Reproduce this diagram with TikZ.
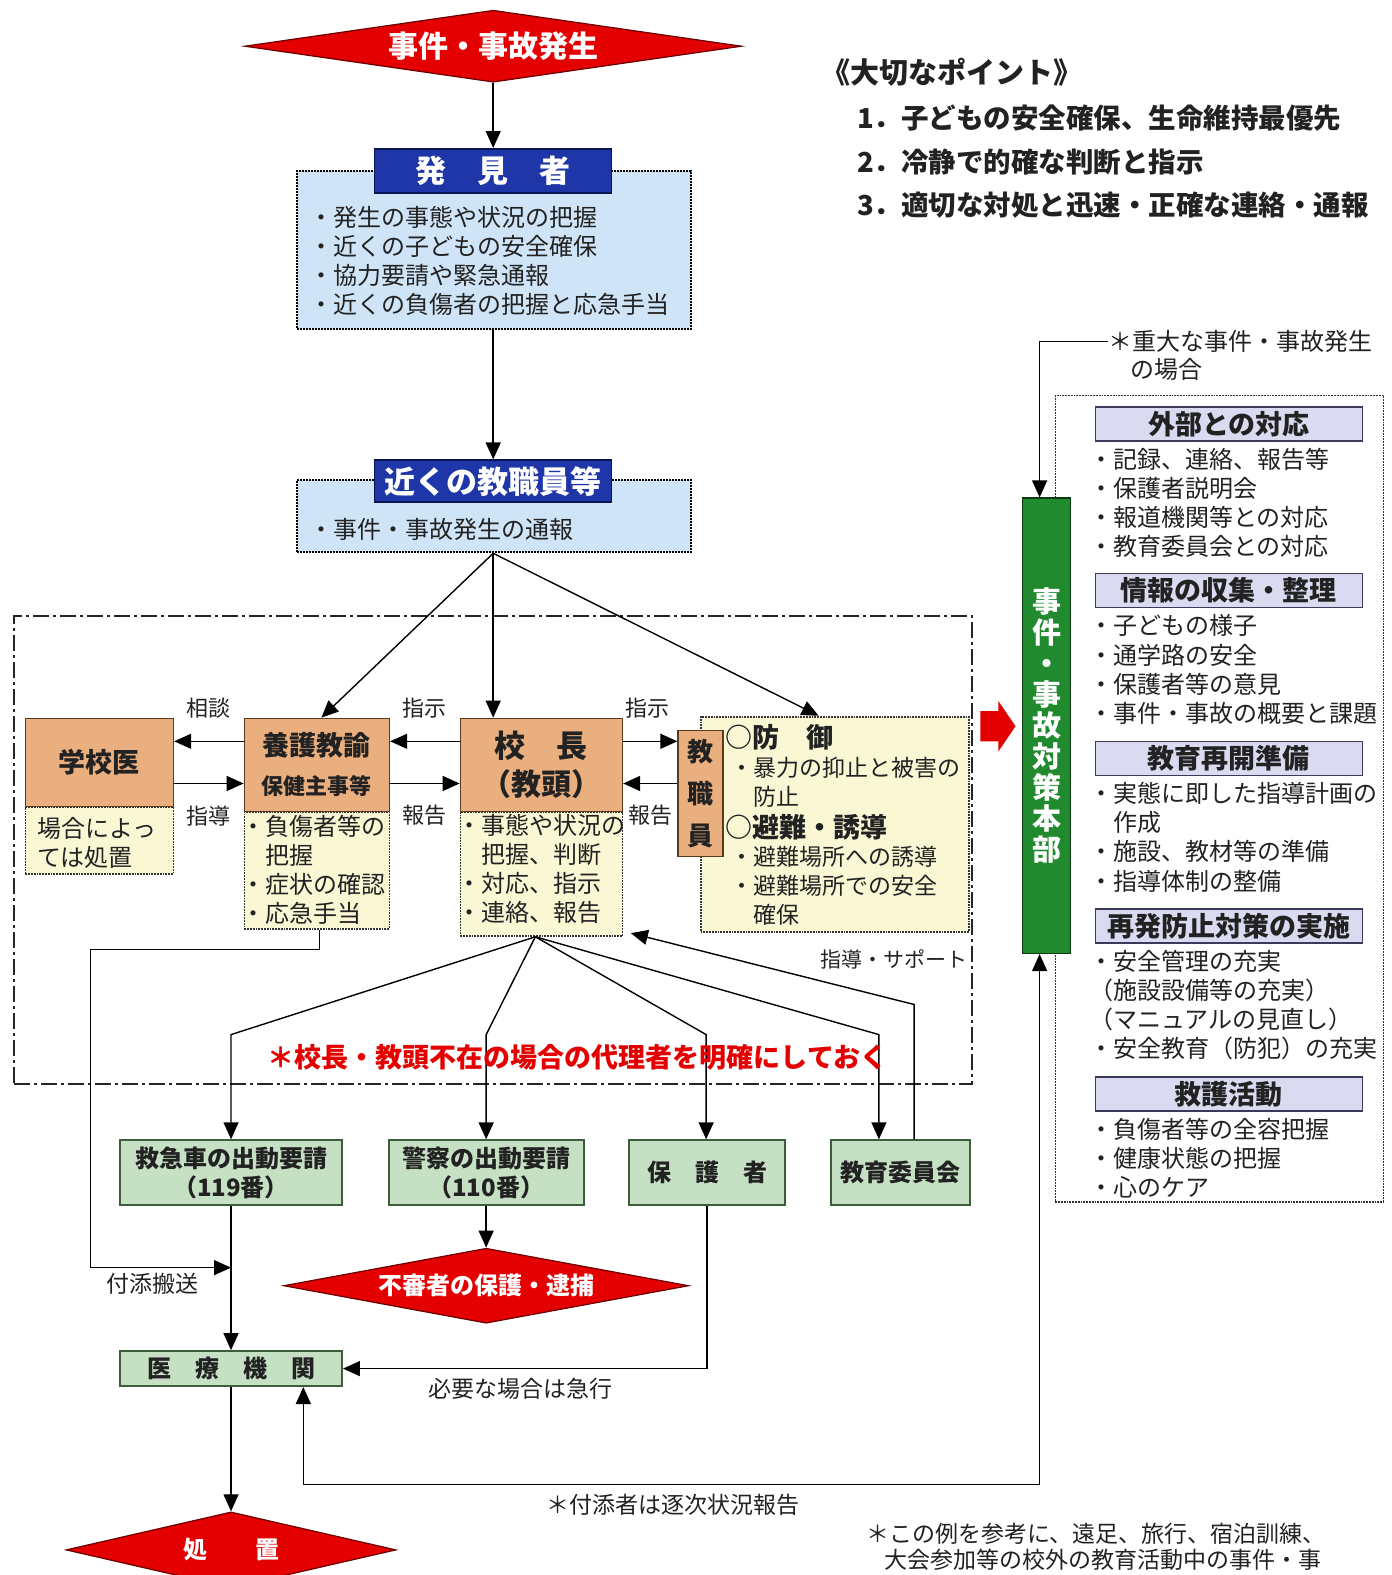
\documentclass[tikz,border=0pt]{standalone}
\usepackage{fontspec}
\setmainfont{Noto Sans CJK JP}
\usetikzlibrary{shapes.geometric,arrows.meta}
\definecolor{cRed}{HTML}{E40000}
\definecolor{cRedB}{HTML}{6A0000}
\definecolor{cBlue}{HTML}{1E36A8}
\definecolor{cBlueB}{HTML}{0A1450}
\definecolor{cLBlue}{HTML}{CFE5F7}
\definecolor{cOrange}{HTML}{EAAF7E}
\definecolor{cOrangeB}{HTML}{5A3A1A}
\definecolor{cYellow}{HTML}{FAF7D5}
\definecolor{cGreen}{HTML}{218A2E}
\definecolor{cGreenB}{HTML}{0C3A10}
\definecolor{cLav}{HTML}{DADBF1}
\definecolor{cLavB}{HTML}{3A3A5A}
\definecolor{cLGreen}{HTML}{C6E0C4}
\definecolor{cLGreenB}{HTML}{3D5E3D}
\definecolor{cText}{HTML}{222222}
\begin{document}
\begin{tikzpicture}[x=1.0043pt,y=-1.0043pt,
  arr/.style={-{Triangle[length=17pt,width=15pt]}, line width=1.4pt, draw=black},
  dbl/.style={{Triangle[length=17pt,width=15pt]}-{Triangle[length=17pt,width=15pt]}, line width=1.4pt, draw=black},
  dia/.style={diamond, fill=cRed, draw=cRedB, line width=1.2pt, inner sep=0pt},
  hdr/.style={rectangle, fill=cBlue, draw=cBlueB, line width=1.5pt, inner sep=0pt},
  lbox/.style={rectangle, fill=cLBlue, draw=black, densely dotted, line width=2pt, inner sep=0pt},
  obox/.style={rectangle, fill=cOrange, draw=cOrangeB, line width=1.5pt, inner sep=0pt},
  ybox/.style={rectangle, fill=cYellow, draw=black!80, densely dotted, line width=1.8pt, inner sep=0pt},
  gbox/.style={rectangle, fill=cLGreen, draw=cLGreenB, line width=1.8pt, inner sep=0pt},
  vbox/.style={rectangle, fill=cLav, draw=cLavB, line width=1.5pt, inner sep=0pt, minimum width=267pt, minimum height=34pt},
  rbox/.style={rectangle, draw=black!80, densely dotted, line width=1.8pt, inner sep=0pt},
  txt/.style={inner sep=0pt, text=cText, font=\fontsize{24}{29}\selectfont, align=left},
  wtxt/.style={inner sep=0pt, text=white, align=center},
  btxt/.style={inner sep=0pt, text=cText, align=center},
  lbl/.style={inner sep=0pt, text=cText, font=\fontsize{22}{22}\selectfont},
  vhead/.style={inner sep=0pt, text=cText, font=\bfseries\fontsize{27}{27}\selectfont},
  item/.style={inner sep=0pt, text=cText, font=\fontsize{24}{24}\selectfont, anchor=west}
]
\useasboundingbox (0,0) rectangle (1385,1568);
\clip (0,0) rectangle (1385,1568);
\fill[white] (0,0) rectangle (1385,1568);

% top diamond
\node[dia, minimum width=497pt, minimum height=72pt] (dtop) at (491,46) {};
\node[wtxt, font=\bfseries\fontsize{30}{30}\selectfont] (dtopT) at (dtop.center) {事件・事故発生};

% discoverer
\node[lbox, minimum width=394pt, minimum height=158pt] (hkbox) at (492,249) {};
\node[hdr, minimum width=237pt, minimum height=44pt] (hk) at (491,170) {};
\node[wtxt, font=\bfseries\fontsize{31}{31}\selectfont] (hkT) at (hk) {発　見　者};
\node[txt, anchor=west] (hkL) at (308,259.5) {・発生の事態や状況の把握\\・近くの子どもの安全確保\\・協力要請や緊急通報\\・近くの負傷者の把握と応急手当};

% nearby staff
\node[lbox, minimum width=394pt, minimum height=72pt] (knbox) at (492,514) {};
\node[hdr, minimum width=237pt, minimum height=42pt] (kn) at (491,479) {};
\node[wtxt, font=\bfseries\fontsize{31}{31}\selectfont] (knT) at (kn) {近くの教職員等};
\node[txt, anchor=west] (knL) at (308,527) {・事件・事故発生の通報};

\draw[arr] (dtop.south) -- (hk.north);
\draw[arr] (hk.north |- hkbox.south) -- (kn.north);

% zone
\node[draw=black!85, line width=2.2pt, dash pattern=on 16pt off 4pt on 3pt off 4pt, minimum width=958pt, minimum height=468pt, inner sep=0pt] (zone) at (491,846) {};

% school doctor
\node[ybox, minimum width=148pt, minimum height=67pt] (gibox) at (99,836.5) {};
\node[obox, minimum width=148pt, minimum height=88pt] (gi) at (99,759) {};
\node[btxt, font=\bfseries\fontsize{27}{27}\selectfont] (giT) at (gi) {学校医};
\node[txt, anchor=west] (giL) at (37,839) {場合によっ\\ては処置};

% nurse teacher
\node[ybox, minimum width=145pt, minimum height=117pt] (ygbox) at (315.5,866.5) {};
\node[obox, minimum width=145pt, minimum height=93pt] (yg) at (315.5,761.5) {};
\node[btxt, font=\bfseries\fontsize{27}{27}\selectfont] (ygT1) at (315.5,742) {養護教諭};
\node[btxt, font=\bfseries\fontsize{22}{22}\selectfont] (ygT2) at (315.5,783) {保健主事等};
\node[txt, anchor=west] (ygL) at (240,865.5) {・負傷者等の\\　把握\\・症状の確認\\・応急手当};

% principal
\node[ybox, minimum width=162pt, minimum height=124pt] (kcbox) at (539,870) {};
\node[obox, minimum width=162pt, minimum height=93pt] (kc) at (539,761.5) {};
\node[btxt, font=\bfseries\fontsize{31}{31}\selectfont] (kcT1) at (539,742) {校　長};
\node[btxt, font=\bfseries\fontsize{30}{30}\selectfont] (kcT2) at (539,781) {（教頭）};
\node[txt, anchor=west] (kcL) at (455,865.5) {・事態や状況の\\　把握、判断\\・対応、指示\\・連絡、報告};

% defence box
\node[ybox, minimum width=268pt, minimum height=215pt] (bgbox) at (831,820.5) {};
\node[obox, minimum width=45pt, minimum height=126pt] (ks) at (697.5,790) {};
\node[btxt, font=\bfseries\fontsize{26}{42}\selectfont] (ksT) at (ks) {教\\職\\員};
\node[inner sep=0pt, text=cText, font=\bfseries\fontsize{27}{27}\selectfont, anchor=west] (bg1) at (722,734) {○防　御};
\node[inner sep=0pt, text=cText, font=\fontsize{23}{23}\selectfont, anchor=west] (bg2) at (727,764) {・暴力の抑止と被害の};
\node[inner sep=0pt, text=cText, font=\fontsize{23}{23}\selectfont, anchor=west] (bg3) at (750,793) {防止};
\node[inner sep=0pt, text=cText, font=\bfseries\fontsize{27}{27}\selectfont, anchor=west] (bg4) at (722,824) {○避難・誘導};
\node[inner sep=0pt, text=cText, font=\fontsize{23}{23}\selectfont, anchor=west] (bg5) at (727,853) {・避難場所への誘導};
\node[inner sep=0pt, text=cText, font=\fontsize{23}{23}\selectfont, anchor=west] (bg6) at (727,882) {・避難場所での安全};
\node[inner sep=0pt, text=cText, font=\fontsize{23}{23}\selectfont, anchor=west] (bg7) at (750,911) {確保};

% horizontal arrows
\draw[arr] (yg.west |- 0,738) -- (gi.east |- 0,738);
\draw[arr] (gi.east |- 0,780) -- (yg.west |- 0,780);
\draw[arr] (kc.west |- 0,738) -- (yg.east |- 0,738);
\draw[arr] (yg.east |- 0,780) -- (kc.west |- 0,780);
\draw[arr] (kc.east |- 0,738) -- (ks.west |- 0,738);
\draw[arr] (ks.west |- 0,780) -- (kc.east |- 0,780);
\node[lbl] (l1) at (208,705) {相談};
\node[lbl] (l2) at (208,812) {指導};
\node[lbl] (l3) at (423,705) {指示};
\node[lbl] (l4) at (423,812) {報告};
\node[lbl] (l5) at (645,705) {指示};
\node[lbl] (l6) at (648,812) {報告};

% arrows from nearby staff
\coordinate (kns) at (kn.north |- knbox.south);
\draw[arr] (kns) -- (yg.north -| 320,0);
\draw[arr] (kns) -- (kc.north -| 491,0);
\draw[arr] (kns) -- (bgbox.north -| 815,0);

% red arrow
\fill[cRed] (976,708) -- (994,708) -- (994,698) -- (1011,723) -- (994,748) -- (994,738) -- (976,738) -- cycle;

% right dotted box
\node[rbox, minimum width=328pt, minimum height=806pt] (rb) at (1214,795) {};

% HQ bar
\node[rectangle, fill=cGreen, draw=cGreenB, line width=1.5pt, minimum width=48pt, minimum height=455pt, inner sep=0pt] (hq) at (1042,722.5) {};
\node[wtxt, font=\bfseries\fontsize{29}{31}\selectfont] (hqT) at (hq) {事\\件\\・\\事\\故\\対\\策\\本\\部};

\node[inner sep=0pt, text=cText, font=\fontsize{24}{24}\selectfont, anchor=west] (sj1) at (1103,340) {＊重大な事件・事故発生};
\node[inner sep=0pt, text=cText, font=\fontsize{24}{24}\selectfont, anchor=west] (sj2) at (1125,368) {の場合};
\coordinate (hqin) at (hq.north -| 1035,0);
\draw[arr] (sj1.west) -| (hqin);

% right contents
\node[vbox] (v1) at (1223.5,422) {}; \node[vhead] (v1T) at (v1) {外部との対応};
\node[item] (i11) at (1084,457) {・記録、連絡、報告等};
\node[item] (i12) at (1084,486) {・保護者説明会};
\node[item] (i13) at (1084,515) {・報道機関等との対応};
\node[item] (i14) at (1084,544) {・教育委員会との対応};
\node[vbox] (v2) at (1223.5,588) {}; \node[vhead] (v2T) at (v2) {情報の収集・整理};
\node[item] (i21) at (1084,623) {・子どもの様子};
\node[item] (i22) at (1084,652) {・通学路の安全};
\node[item] (i23) at (1084,681) {・保護者等の意見};
\node[item] (i24) at (1084,710) {・事件・事故の概要と課題};
\node[vbox] (v3) at (1223.5,755) {}; \node[vhead] (v3T) at (v3) {教育再開準備};
\node[item] (i31) at (1084,790) {・実態に即した指導計画の};
\node[item] (i32) at (1108,819) {作成};
\node[item] (i33) at (1084,848) {・施設、教材等の準備};
\node[item] (i34) at (1084,877) {・指導体制の整備};
\node[vbox] (v4) at (1223.5,922) {}; \node[vhead] (v4T) at (v4) {再発防止対策の実施};
\node[item] (i41) at (1084,957) {・安全管理の充実};
\node[item] (i42) at (1084,986) {（施設設備等の充実）};
\node[item] (i43) at (1084,1015) {（マニュアルの見直し）};
\node[item] (i44) at (1084,1044) {・安全教育（防犯）の充実};
\node[vbox] (v5) at (1223.5,1089) {}; \node[vhead] (v5T) at (v5) {救護活動};
\node[item] (i51) at (1084,1124) {・負傷者等の全容把握};
\node[item] (i52) at (1084,1153) {・健康状態の把握};
\node[item] (i53) at (1084,1182) {・心のケア};

% green boxes
\node[gbox, minimum width=222pt, minimum height=65pt] (qk) at (230,1167.5) {};
\node[btxt, font=\bfseries\fontsize{24}{29}\selectfont] (qkT) at (qk) {救急車の出動要請\\（119番）};
\node[gbox, minimum width=195pt, minimum height=65pt] (kp) at (484,1167.5) {};
\node[btxt, font=\bfseries\fontsize{24}{29}\selectfont] (kpT) at (kp) {警察の出動要請\\（110番）};
\node[gbox, minimum width=156pt, minimum height=65pt] (hg) at (704,1167.5) {};
\node[btxt, font=\bfseries\fontsize{24}{24}\selectfont] (hgT) at (hg) {保　護　者};
\node[gbox, minimum width=139pt, minimum height=65pt] (ki) at (896.5,1167.5) {};
\node[btxt, font=\bfseries\fontsize{24}{24}\selectfont] (kiT) at (ki) {教育委員会};

% from principal
\coordinate (kcs) at (kcbox.south -| 533,0);
\draw[arr] (kcs) -- (230,1030) -- (qk.north);
\draw[arr] (kcs) -- (484,1030) -- (kp.north);
\draw[arr] (kcs) -- (703,1030) -- (hg.north -| 703,0);
\draw[arr] (kcs) -- (875,1030) -- (ki.north -| 875,0);
\coordinate (kcse) at (628,929);
\draw[arr] (ki.north -| 910,0) -- (910,1000) -- (kcse);
\node[inner sep=0pt, text=cText, font=\fontsize{21}{21}\selectfont] (sup) at (890,955) {指導・サポート};
\node[inner sep=0pt, text=cRed, font=\bfseries\fontsize{27}{27}\selectfont] (rt) at (575,1053) {＊校長・教頭不在の場合の代理者を明確にしておく};

% accompany
\draw[arr] (ygbox.south -| 318,0) -- (318,945) -- (90,945) -- (90,1262) -- (qk.south |- 0,1262);
\node[lbl, font=\fontsize{23}{23}\selectfont] (tsk) at (152,1278) {付添搬送};

% suspect
\node[dia, minimum width=405pt, minimum height=75pt] (fs) at (484,1280) {};
\node[wtxt, font=\bfseries\fontsize{24}{24}\selectfont] (fsT) at (fs) {不審者の保護・逮捕};
\draw[arr] (kp.south) -- (fs.north);

% medical
\node[gbox, minimum width=222pt, minimum height=35pt] (ir) at (230,1362.5) {};
\node[btxt, font=\bfseries\fontsize{24}{24}\selectfont] (irT) at (ir) {医　療　機　関};
\draw[arr] (qk.south) -- (ir.north);
\draw[arr] (hg.south) |- (ir.east);
\node[lbl, font=\fontsize{23}{23}\selectfont] (kyu) at (518,1383) {必要な場合は急行};
\draw[dbl] (ir.south -| 302,0) |- (1035,1478) -- (hq.south -| 1035,0);
\node[lbl, font=\fontsize{23}{23}\selectfont] (ftk) at (670,1498) {＊付添者は逐次状況報告};

% treatment
\node[dia, minimum width=330pt, minimum height=76pt] (sc) at (230,1543) {};
\node[wtxt, font=\bfseries\fontsize{24}{24}\selectfont] (scT) at (sc) {処　　置};
\draw[arr] (ir.south) -- (sc.north);

% notes
\node[item, font=\fontsize{23}{23}\selectfont] (n1) at (862,1527) {＊この例を参考に、遠足、旅行、宿泊訓練、};
\node[item, font=\fontsize{23}{23}\selectfont] (n2) at (880,1553) {大会参加等の校外の教育活動中の事件・事};

% key points
\node[inner sep=0pt, text=cText, font=\bfseries\fontsize{29}{29}\selectfont, anchor=west] (kp0) at (818,72) {《大切なポイント》};
\node[inner sep=0pt, text=cText, font=\bfseries\fontsize{27.5}{27.5}\selectfont, anchor=west] (kp1) at (853,118) {1．子どもの安全確保、生命維持最優先};
\node[inner sep=0pt, text=cText, font=\bfseries\fontsize{27.5}{27.5}\selectfont, anchor=west] (kp2) at (853,161) {2．冷静で的確な判断と指示};
\node[inner sep=0pt, text=cText, font=\bfseries\fontsize{27.5}{27.5}\selectfont, anchor=west] (kp3) at (853,204) {3．適切な対処と迅速・正確な連絡・通報};
\end{tikzpicture}
\end{document}
